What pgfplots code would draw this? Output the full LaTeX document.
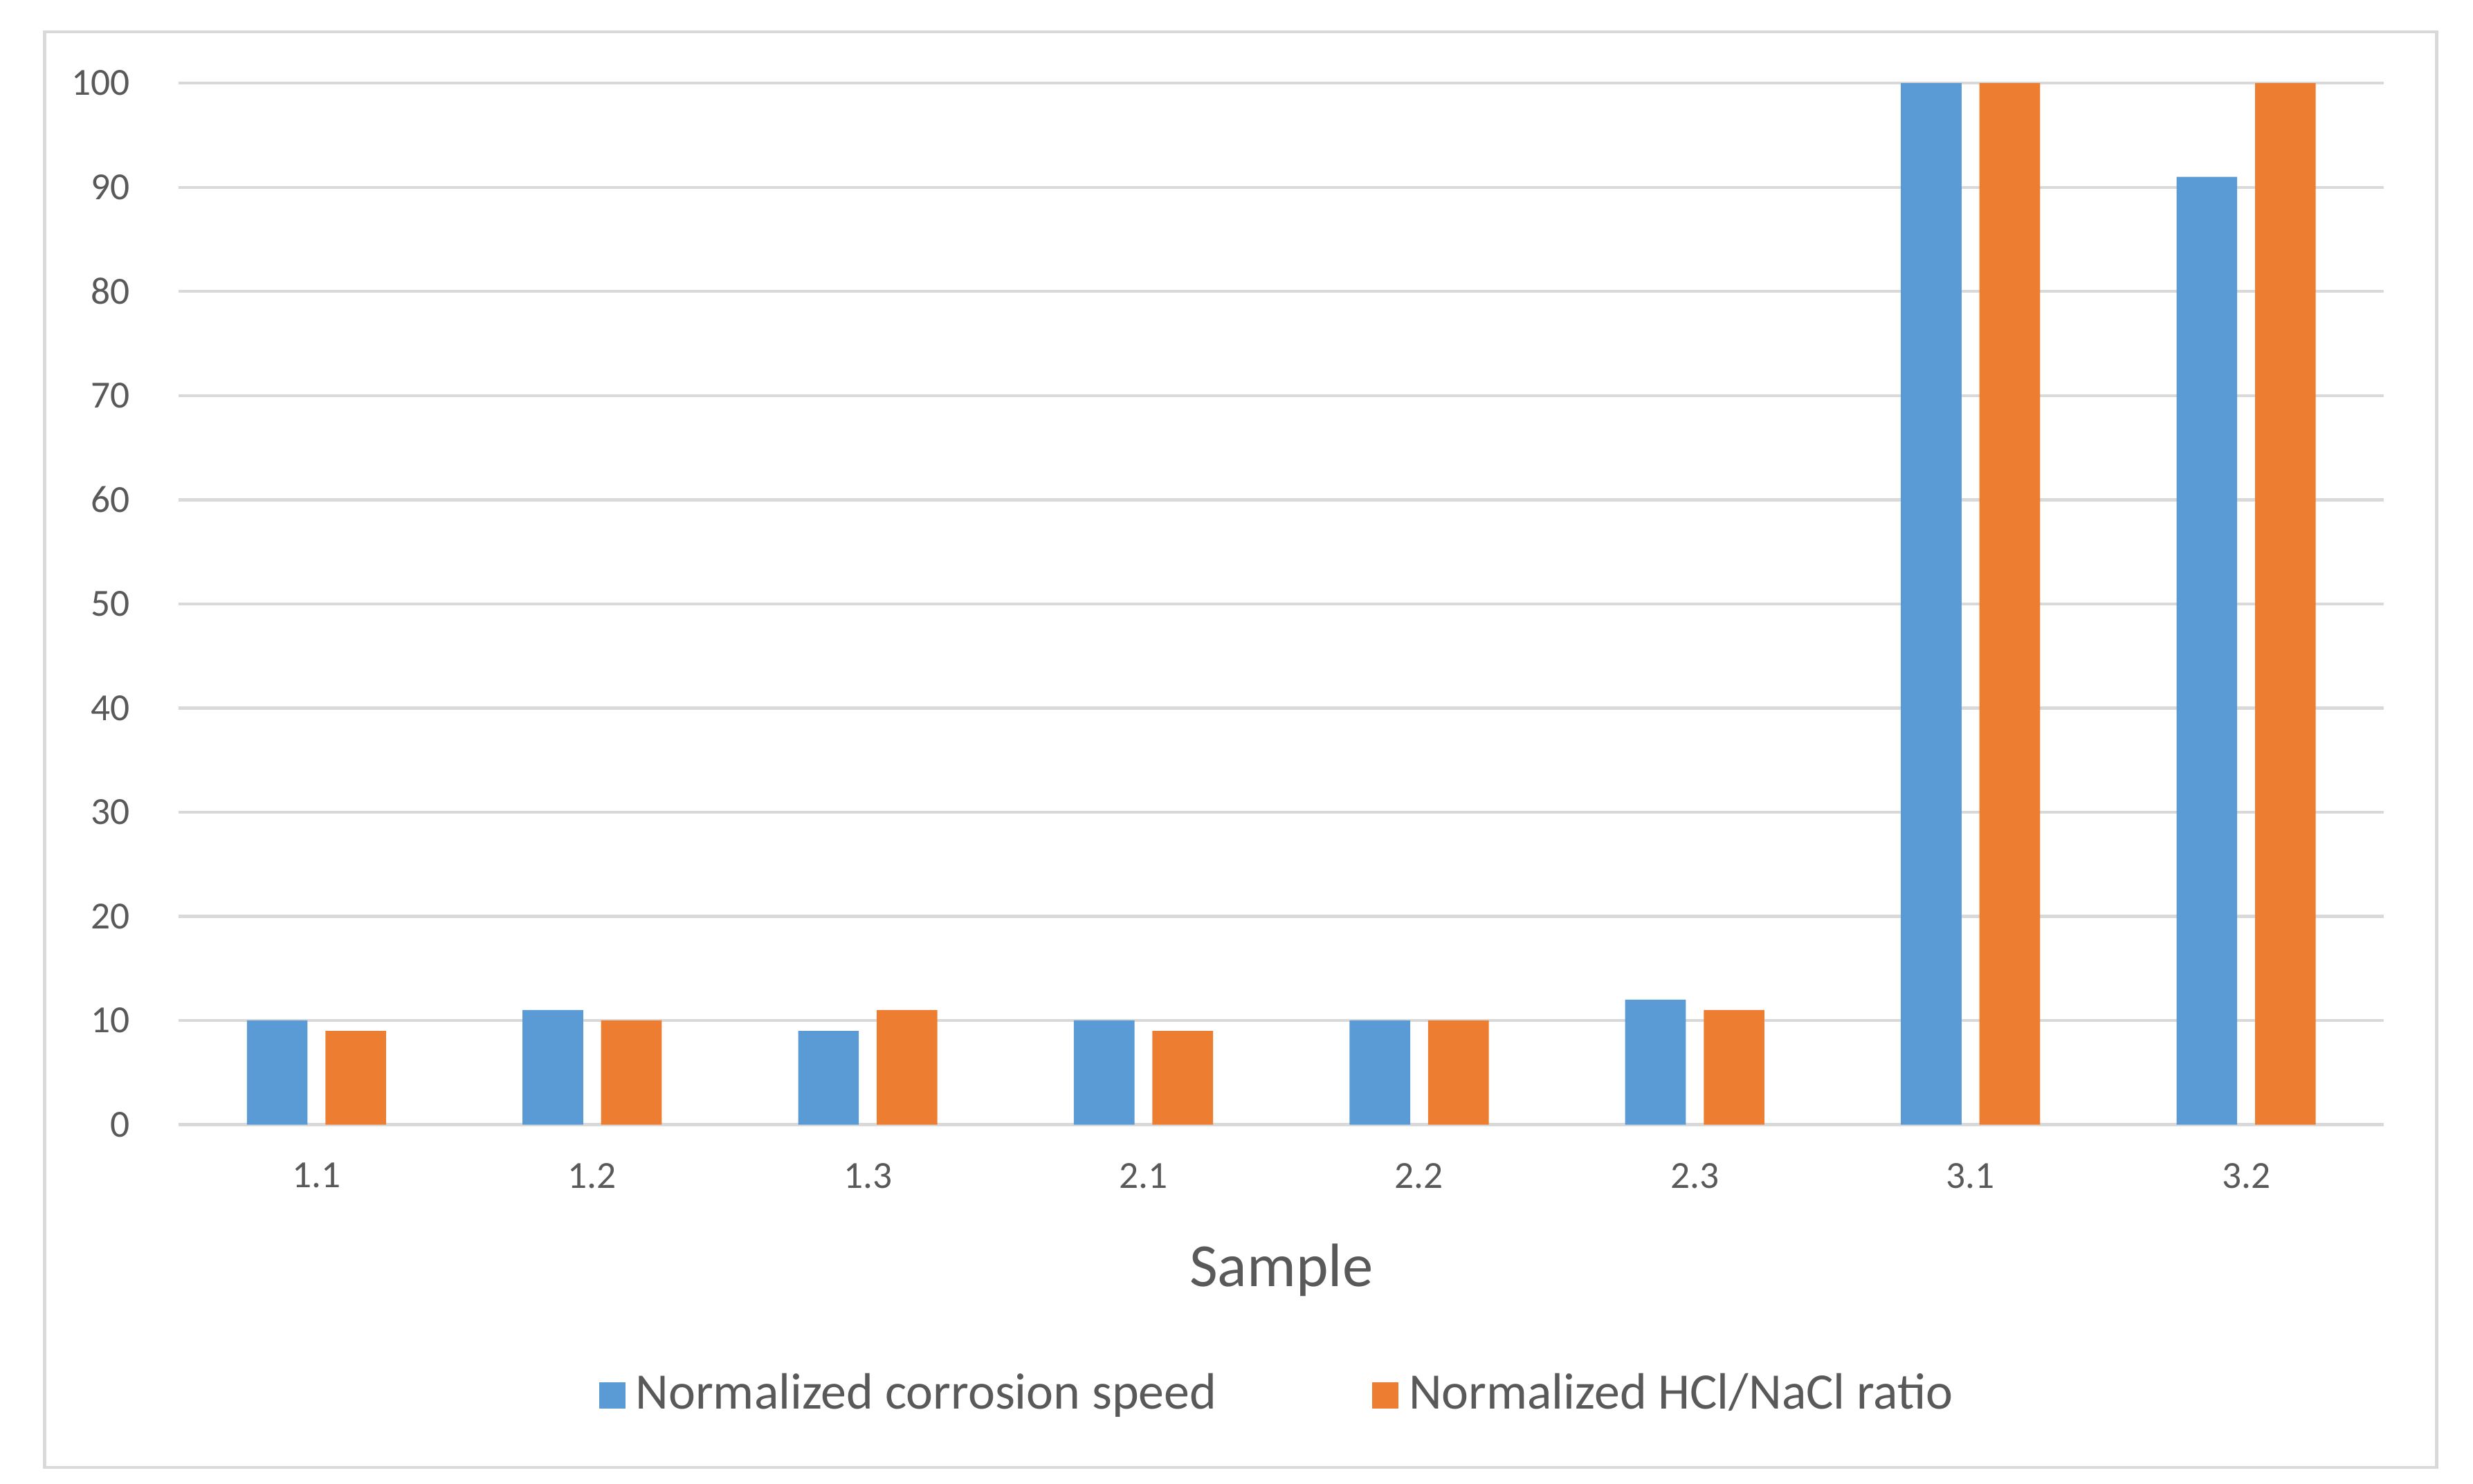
\documentclass[border=0pt]{standalone}
\usepackage{pgfplots}
\pgfplotsset{compat=1.18}
\usepackage{fontspec}
\setmainfont{Carlito}
\definecolor{cblue}{HTML}{5B9BD5}
\definecolor{corange}{HTML}{ED7D31}
\definecolor{cgrid}{HTML}{D9D9D9}
\definecolor{ctext}{HTML}{595959}
\begin{document}
\begin{tikzpicture}
\path[use as bounding box] (0,0) rectangle (17,10.2);
\draw[cgrid, line width=0.6pt] (0.307,0.11) rectangle (16.75,9.98);
\begin{axis}[at={(1.228cm,2.468cm)}, anchor=south west,
  scale only axis, width=15.16cm, height=7.16cm,
  ymin=0, ymax=100, ytick={0,10,...,100},
  xmin=-0.5, xmax=7.5, xtick={0,...,7},
  xticklabels={1.1,1.2,1.3,2.1,2.2,2.3,3.1,3.2},
  ymajorgrids, grid style={cgrid, line width=0.6pt},
  axis y line*=left, y axis line style={draw=none},
  axis x line*=bottom, x axis line style={cgrid, line width=0.6pt, -},
  major tick length=0pt,
  tick label style={font=\fontsize{7.5}{9}\selectfont, text=ctext},
  /pgf/number format/assume math mode=true,
  yticklabel style={xshift=-6pt},
  xticklabel style={yshift=-4pt},
  xlabel={Sample}, xlabel style={font=\fontsize{12}{14}\selectfont, text=ctext, yshift=-4pt},
  legend style={at={(0.5,-0.26)}, anchor=center, draw=none, legend columns=2,
    font=\fontsize{10}{12}\selectfont, text=ctext, /tikz/every even column/.append style={column sep=1cm}},
  legend image code/.code={\fill[#1] (0,-0.09cm) rectangle (0.18cm,0.09cm);},
]
\addplot[ybar, bar width=0.417cm, bar shift=-0.27cm, fill=cblue, draw=none] coordinates {(0,10) (1,11) (2,9) (3,10) (4,10) (5,12) (6,100) (7,91)};
\addplot[ybar, bar width=0.417cm, bar shift=0.27cm, fill=corange, draw=none] coordinates {(0,9) (1,10) (2,11) (3,9) (4,10) (5,11) (6,100) (7,100)};
\legend{Normalized corrosion speed, Normalized HCl/NaCl ratio}
\end{axis}
\end{tikzpicture}
\end{document}
